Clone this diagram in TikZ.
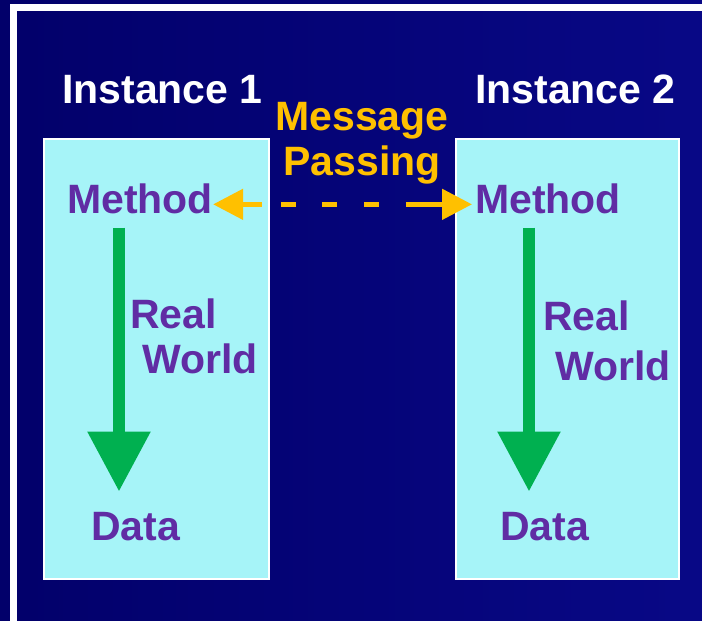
\documentclass[tikz,border=0pt]{standalone}
\usepackage{fontspec}
\setmainfont{Liberation Sans}
\usepackage{tikz}
\usetikzlibrary{positioning,arrows.meta,calc}
\definecolor{navy}{RGB}{2,0,106}
\definecolor{navylight}{RGB}{8,8,134}
\definecolor{boxcyan}{RGB}{166,244,248}
\definecolor{wordpurple}{RGB}{96,44,164}
\definecolor{msgorange}{RGB}{255,192,0}
\definecolor{flowgreen}{RGB}{0,176,80}
\tikzstyle{panel} = [rectangle, draw=white, line width=1.5pt, fill=boxcyan, %
   anchor=north west, minimum width=225pt, minimum height=440pt]
\tikzstyle{title} = [text=white, inner sep=0pt, anchor=base west]
\tikzstyle{word} = [text=wordpurple, inner sep=0pt, anchor=base west]
\tikzstyle{flow} = [draw, color=flowgreen, line width=12pt, -{Triangle[width=60pt,length=60pt]}]
\tikzstyle{msgline} = [draw, color=msgorange, line width=5pt, %
   {Triangle[width=30pt,length=30pt]}-{Triangle[width=30pt,length=30pt]}, %
   dash pattern=on 20pt off 19pt on 15pt off 26pt on 15pt off 27pt on 15pt off 27pt on 40pt off 1pt]

\begin{document}
\begin{tikzpicture}[x=1pt,y=-1pt,font=\fontsize{41pt}{45pt}\selectfont\bfseries]
         \useasboundingbox (0,0) rectangle (702,621);
         % Background and frame
         \shade[left color=navy, right color=navylight] (0,0) rectangle (702,621);
         \fill[white] (10,4) rectangle (17,621);
         \fill[white] (10,4) rectangle (702,11);

      % INSTANCE PANELS %%%%%%%%%%%%%%%%%%%%%%%%%%%%%%%%%%%%%%%%%%%%%%%
         \node[panel](box1) at (43,138){};
         \node[panel, minimum width=223pt](box2) at (455,138){};

         % Place nodes
         \node[title](inst1) at (62,103){Instance 1};
         \node[title](inst2) at (475,103){Instance 2};
         \node[text=msgorange, inner sep=0pt, anchor=base, align=center](msg) at (362,175){%
            Message\\Passing};

         \node[word](method1) at (67,213){Method};
         \node[word](method2) at (475,213){Method};

         \node[word, align=left](world1) at (130,373){Real\\\hspace*{12pt}World};
         \node[word, align=left](world2) at (543,380){Real\\[5pt]\hspace*{12pt}World};

         \node[word](data1) at (91,540){Data};
         \node[word](data2) at (500,540){Data};

         \coordinate (shaft1) at (119,0);
         \coordinate (shaft2) at (529,0);

         % Draw edges
         \path[flow, shorten <=14pt, shorten >=20pt] (method1.south -| shaft1) -- (data1.north -| shaft1);
         \path[flow, shorten <=14pt, shorten >=20pt] (method2.south -| shaft2) -- (data2.north -| shaft2);
         \path[msgline, shorten >=3pt] ([yshift=-6pt]method1.east) -- ([yshift=-6pt]method2.west);

      \end{tikzpicture}
\end{document}
